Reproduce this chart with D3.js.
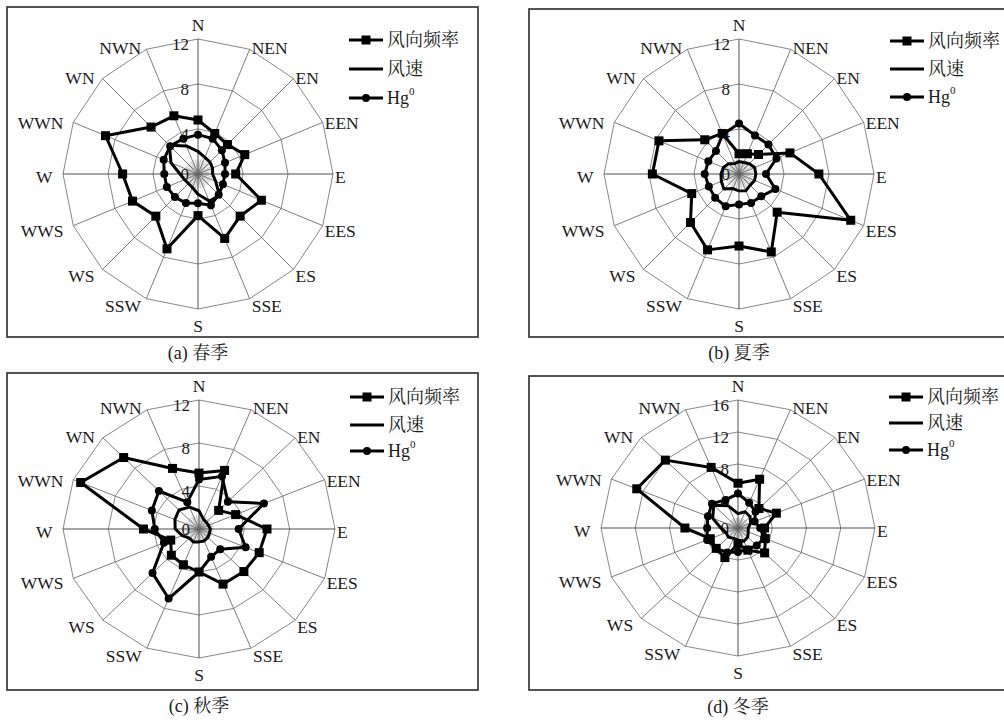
<!DOCTYPE html>
<html>
<head>
<meta charset="utf-8">
<script src="https://cdn.jsdelivr.net/npm/d3@7"></script>
<style>
  body { margin: 0; background: #fff; }
  text { font-family: "Liberation Serif", "Noto Serif CJK SC", "Noto Sans CJK SC", serif; fill: #1a1a1a; }
</style>
</head>
<body>
<svg id="chart" width="1004" height="720"></svg>
<script>
// 16 wind directions, clockwise from N (labels as in the figure)
const directions = ['N','NEN','EN','EEN','E','EES','ES','SSE','S','SSW','WS','WWS','W','WWN','WN','NWN'];

// (a) spring
const freqSpring  = [4.8, 3.9, 3.7, 4.5, 3.35, 6.1, 5.3, 6.2, 3.7, 7.2, 5.3, 6.3, 6.7, 8.9, 5.9, 5.6];
const speedSpring = [2.0, 1.6, 1.5, 1.4, 1.3, 1.7, 2.7, 2.6, 1.8, 1.3, 1.2, 1.3, 1.6, 2.6, 3.6, 2.7];
const hgSpring    = [3.5, 3.4, 3.0, 2.6, 2.4, 2.4, 2.6, 3.0, 2.6, 2.8, 2.9, 3.0, 3.0, 3.3, 3.5, 3.4];

// (b) summer
const freqSummer  = [1.8, 1.95, 2.45, 4.9, 7.1, 10.75, 4.8, 7.5, 6.4, 7.3, 6.1, 4.55, 7.7, 7.7, 4.3, 3.9];
const speedSummer = [1.1, 1.1, 1.3, 1.5, 1.5, 1.5, 1.4, 1.6, 1.5, 1.4, 1.9, 1.7, 1.6, 1.5, 1.3, 1.0];
const hgSummer    = [4.5, 3.7, 3.7, 3.6, 2.4, 3.5, 2.8, 2.8, 2.7, 3.1, 3.0, 2.9, 3.05, 2.95, 2.9, 3.8];

// (c) autumn
const freqAutumn  = [5.2, 5.9, 2.45, 3.5, 6.0, 5.75, 5.6, 5.55, 4.0, 3.6, 3.45, 2.7, 4.9, 11.3, 9.4, 6.1];
const speedAutumn = [1.7, 1.0, 0.9, 0.9, 1.0, 1.0, 1.1, 1.2, 1.2, 1.3, 1.2, 1.6, 2.1, 2.3, 2.5, 2.2];
const hgAutumn    = [4.6, 5.3, 3.6, 6.2, 3.5, 4.45, 2.65, 2.8, 4.0, 7.0, 5.8, 3.35, 3.9, 4.5, 5.0, 2.7];

// (d) winter
const freqWinter  = [5.6, 6.6, 3.45, 4.85, 3.1, 3.45, 4.4, 3.0, 2.0, 4.0, 3.6, 3.5, 6.2, 12.8, 12.0, 8.2];
const speedWinter = [1.8, 2.2, 2.0, 1.6, 1.2, 1.3, 1.6, 1.8, 1.5, 1.4, 1.6, 1.5, 2.0, 3.2, 4.0, 3.0];
const hgWinter    = [4.3, 3.4, 2.9, 2.1, 2.6, 3.3, 3.1, 2.9, 3.0, 3.3, 3.6, 3.9, 3.6, 3.8, 4.3, 3.8];

const ticks12 = [0, 4, 8, 12];
const ticks16 = [0, 4, 8, 12, 16];

const legendNames = ['风向频率', '风速', 'Hg'];

// layout of the four panels
const panels = [
  { caption: '(a) 春季', freq: freqSpring, speed: speedSpring, hg: hgSpring, ticks: ticks12,
    box: [7, 7, 478, 337], cx: 198, cy: 174, rx: 135, ry: 135, capY: 353, legY: [40, 69, 98] },
  { caption: '(b) 夏季', freq: freqSummer, speed: speedSummer, hg: hgSummer, ticks: ticks12,
    box: [529, 9, 1010, 337], cx: 739, cy: 174, rx: 135, ry: 135, capY: 353, legY: [41, 69, 97] },
  { caption: '(c) 秋季', freq: freqAutumn, speed: speedAutumn, hg: hgAutumn, ticks: ticks12,
    box: [7, 373, 478, 690], cx: 199, cy: 529, rx: 136, ry: 129, capY: 706, legY: [397, 425, 451] },
  { caption: '(d) 冬季', freq: freqWinter, speed: speedWinter, hg: hgWinter, ticks: ticks16,
    box: [529, 376, 1010, 690], cx: 738, cy: 528, rx: 137, ry: 128, capY: 707, legY: [397, 423, 450] }
];

const svg = d3.select('#chart');

function drawRadar(p) {
  const g = svg.append('g');
  const max = d3.max(p.ticks);
  const rX = d3.scaleLinear().domain([0, max]).range([0, p.rx]);
  const rY = d3.scaleLinear().domain([0, max]).range([0, p.ry]);
  const angle = d3.scaleLinear().domain([0, directions.length]).range([0, 2 * Math.PI]);
  const px = (v, i) => p.cx + rX(v) * Math.sin(angle(i));
  const py = (v, i) => p.cy - rY(v) * Math.cos(angle(i));

  // frame
  g.append('rect')
    .attr('x', p.box[0]).attr('y', p.box[1])
    .attr('width', p.box[2] - p.box[0]).attr('height', p.box[3] - p.box[1])
    .attr('fill', 'none').attr('stroke', '#2a2a2a').attr('stroke-width', 1.6);

  // rings
  const ringLine = d3.line().x(d => d[0]).y(d => d[1]).curve(d3.curveLinearClosed);
  g.selectAll('.ring').data(p.ticks.filter(t => t > 0)).enter()
    .append('path')
    .attr('d', t => ringLine(directions.map((_, i) => [px(t, i), py(t, i)])))
    .attr('fill', 'none').attr('stroke', '#7a7a7a').attr('stroke-width', 0.9);

  // fine spokes in the middle
  const fine = d3.range(36);
  g.selectAll('.fine').data(fine).enter()
    .append('line')
    .attr('x1', p.cx).attr('y1', p.cy)
    .attr('x2', k => p.cx + rX(1.3) * Math.sin(k * Math.PI / 18))
    .attr('y2', k => p.cy - rY(1.3) * Math.cos(k * Math.PI / 18))
    .attr('stroke', '#8a8a8a').attr('stroke-width', 0.6);

  // spokes
  g.selectAll('.spoke').data(directions).enter()
    .append('line')
    .attr('x1', p.cx).attr('y1', p.cy)
    .attr('x2', (_, i) => px(max, i)).attr('y2', (_, i) => py(max, i))
    .attr('stroke', (_, i) => i % 4 === 0 ? '#3a3a3a' : '#6e6e6e')
    .attr('stroke-width', 0.9);

  // direction labels
  g.selectAll('.dir').data(directions).enter()
    .append('text')
    .attr('font-size', 17.5)
    .attr('dominant-baseline', 'central')
    .each(function (d, i) {
      const s = Math.sin(angle(i)), c = Math.cos(angle(i));
      const vx = px(max, i), vy = py(max, i);
      const t = d3.select(this).text(d);
      if (Math.abs(s) < 0.01) {
        t.attr('text-anchor', 'middle').attr('x', vx).attr('y', c > 0 ? vy - 14 : vy + 17);
      } else if (s > 0) {
        t.attr('text-anchor', 'start').attr('x', vx + 2).attr('y', vy + 3 - 5 * c);
      } else {
        t.attr('text-anchor', 'end').attr('x', vx - 2 + 8.5 * s).attr('y', vy + 3 - 5 * c);
      }
    });

  // radial tick labels
  g.selectAll('.tick').data(p.ticks).enter()
    .append('text')
    .attr('font-size', 17)
    .attr('text-anchor', 'end')
    .attr('dominant-baseline', 'central')
    .attr('x', p.cx - 9)
    .attr('y', t => p.cy - rY(t) + (t === 0 ? 0 : 5))
    .text(t => t);

  const series = d3.line().x(d => d[0]).y(d => d[1]).curve(d3.curveLinearClosed);
  const pts = vals => vals.map((v, i) => [px(v, i), py(v, i)]);

  // wind frequency
  g.append('path').attr('d', series(pts(p.freq)))
    .attr('fill', 'none').attr('stroke', '#000').attr('stroke-width', 3).attr('stroke-linejoin', 'round');
  // wind speed
  g.append('path').attr('d', series(pts(p.speed)))
    .attr('fill', 'none').attr('stroke', '#000').attr('stroke-width', 3).attr('stroke-linejoin', 'round');
  // Hg0
  g.append('path').attr('d', series(pts(p.hg)))
    .attr('fill', 'none').attr('stroke', '#000').attr('stroke-width', 3).attr('stroke-linejoin', 'round');

  g.selectAll('.sq').data(pts(p.freq)).enter()
    .append('rect')
    .attr('x', d => d[0] - 4.5).attr('y', d => d[1] - 4.5)
    .attr('width', 9).attr('height', 9).attr('fill', '#000');
  g.selectAll('.dot').data(pts(p.hg)).enter()
    .append('circle')
    .attr('cx', d => d[0]).attr('cy', d => d[1]).attr('r', 4).attr('fill', '#000');

  // legend
  const lx = p.cx + 151;
  const leg = g.selectAll('.leg').data(legendNames).enter()
    .append('g').attr('transform', (_, i) => `translate(${lx},${p.legY[i]})`);
  leg.append('line').attr('x1', 0).attr('x2', 34).attr('y1', 0).attr('y2', 0)
    .attr('stroke', '#000').attr('stroke-width', 3);
  leg.filter((_, i) => i === 0).append('rect')
    .attr('x', 12.5).attr('y', -4.5).attr('width', 9).attr('height', 9).attr('fill', '#000');
  leg.filter((_, i) => i === 2).append('circle')
    .attr('cx', 17).attr('cy', 0).attr('r', 4).attr('fill', '#000');
  const lt = leg.append('text').attr('x', 38).attr('y', 0)
    .attr('dominant-baseline', 'central').attr('font-size', 18)
    .text(d => d);
  lt.filter((_, i) => i === 2).append('tspan')
    .attr('font-size', 11).attr('dy', -7).text('0');

  // caption
  svg.append('text')
    .attr('x', p.cx).attr('y', p.capY)
    .attr('text-anchor', 'middle').attr('dominant-baseline', 'central')
    .attr('font-size', 18)
    .text(p.caption);
}

panels.forEach(drawRadar);
</script>
</body>
</html>
